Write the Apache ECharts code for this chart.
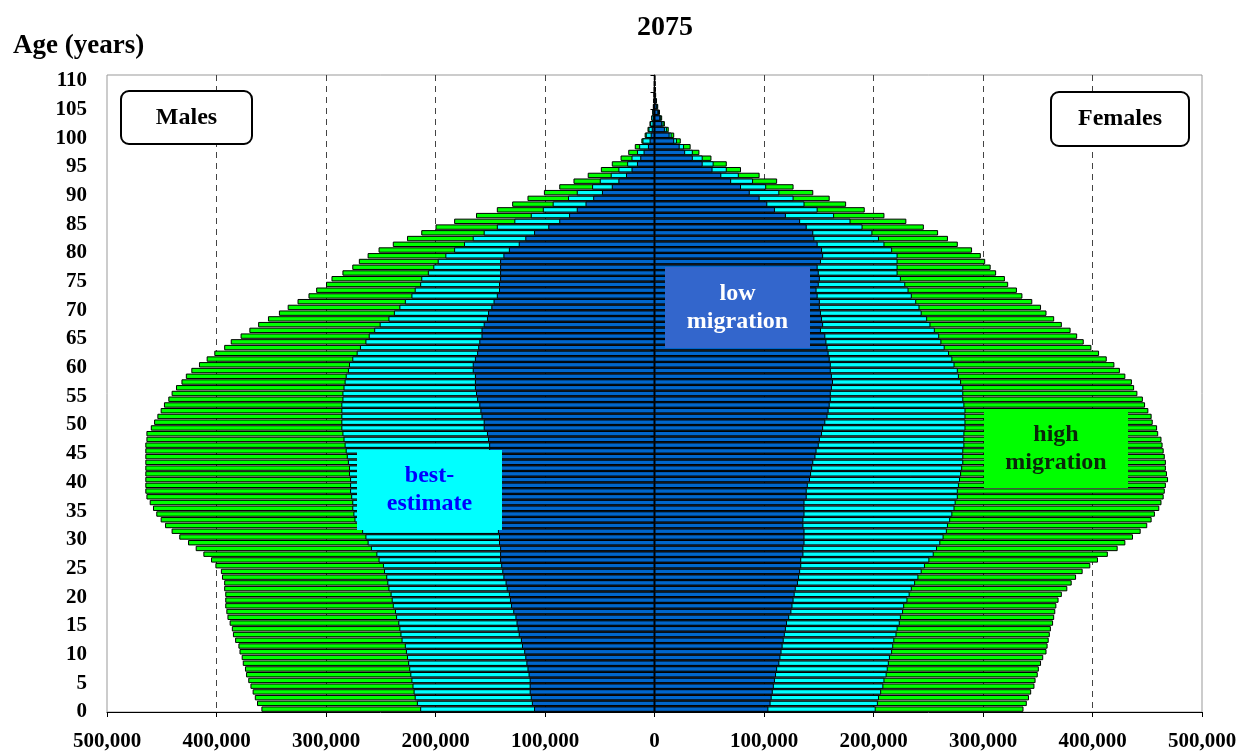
<!DOCTYPE html>
<html>
<head>
<meta charset="utf-8">
<title>2075</title>
<script src="https://cdn.jsdelivr.net/npm/echarts@6/dist/echarts.min.js"></script>
<style>
  html, body { margin: 0; padding: 0; background: #fff; }
  #pyramid { width: 1255px; height: 753px; }
</style>
</head>
<body>
<div id="pyramid"></div>
<script>
// age groups 0..110
const ages = [];
for (let a = 0; a <= 110; a++) ages.push(a);

// population in thousands, males drawn to the left
const malesHigh = [
  359, 363, 365, 367, 369, 371, 373, 374, 376, 377,
  379, 380, 383, 385, 386, 388, 390, 391, 392, 392,
  392, 393, 393, 395, 396, 401, 405, 412, 419, 426,
  434, 441, 447, 451, 455, 458, 461, 464, 465, 465,
  465, 465, 465, 465, 465, 465, 465, 464, 464, 460,
  457, 454, 451, 448, 444, 441, 437, 432, 428, 423,
  416, 409, 402, 393, 387, 378, 370, 362, 353, 343,
  335, 326, 316, 309, 300, 295, 285, 276, 270, 262,
  252, 239, 226, 213, 200, 183, 163, 144, 130, 116,
  101, 87, 74, 61, 49, 39, 31, 24, 18, 12,
  9, 6.4, 4.6, 3, 2.1, 1.5, 1, 0.6, 0.3, 0.2,
  0.1
];
const malesBest = [
  214, 217, 219, 220, 221, 222, 223, 224, 225, 226,
  227, 228, 231, 232, 233, 234, 236, 237, 239, 240,
  241, 243, 244, 245, 247, 248, 252, 254, 259, 262,
  264, 267, 270, 274, 275, 276, 276, 277, 278, 278,
  278, 279, 279, 280, 281, 282, 283, 284, 285, 286,
  286, 286, 286, 286, 285, 285, 284, 283, 282, 280,
  279, 276, 272, 269, 264, 261, 256, 251, 243, 238,
  233, 228, 222, 219, 214, 213, 207, 202, 198, 191,
  183, 174, 166, 156, 144, 128, 113, 102, 93, 79,
  71, 57, 50, 40, 33, 25, 21, 16, 14, 11,
  8, 5.5, 4, 2.8, 2, 1.4, 0.9, 0.5, 0.3, 0.2,
  0.1
];
const malesLow = [
  110, 112, 113, 114, 114, 114, 115, 116, 117, 118,
  119, 121, 122, 124, 125, 126, 127, 129, 131, 132,
  133, 135, 136, 138, 139, 140, 141, 141, 141, 142,
  142, 143, 144, 144, 145, 146, 146, 147, 147, 148,
  149, 149, 150, 150, 150, 151, 151, 152, 153, 156,
  156, 158, 159, 160, 162, 163, 164, 164, 164, 166,
  166, 164, 162, 161, 160, 158, 158, 156, 153, 152,
  149, 147, 144, 142, 142, 141, 141, 141, 141, 138,
  133, 124, 118, 110, 97, 87, 78, 71, 63, 56,
  48, 39, 33, 26, 21, 16, 13, 10, 6, 4.5,
  3.5, 2.5, 1.8, 1.2, 0.8, 0.5, 0.3, 0.2, 0.1, 0.1,
  0.05
];
const femalesHigh = [
  337, 340, 342, 344, 347, 348, 350, 351, 353, 355,
  358, 359, 360, 361, 362, 364, 365, 366, 367, 369,
  372, 377, 381, 385, 391, 398, 405, 414, 423, 430,
  437, 444, 450, 454, 457, 461, 463, 465, 466, 467,
  469, 468, 467, 467, 466, 465, 464, 463, 460, 459,
  455, 454, 451, 448, 446, 441, 438, 436, 430, 425,
  420, 413, 406, 399, 392, 386, 380, 372, 365, 358,
  353, 345, 336, 331, 323, 320, 312, 307, 302, 298,
  290, 277, 268, 259, 246, 230, 210, 192, 175, 160,
  145, 127, 112, 96, 79, 66, 52, 41, 33, 24,
  18, 13, 9.5, 7, 5, 3.4, 2.3, 1.5, 1, 0.6,
  0.4
];
const femalesBest = [
  202, 204, 205, 207, 209, 210, 212, 213, 214, 215,
  217, 218, 219, 221, 222, 224, 225, 227, 228, 231,
  233, 235, 238, 241, 244, 247, 251, 255, 258, 261,
  264, 267, 268, 270, 272, 274, 275, 277, 277, 278,
  279, 280, 281, 282, 282, 282, 283, 283, 283, 284,
  284, 284, 284, 283, 282, 282, 282, 280, 278, 277,
  274, 272, 269, 265, 262, 260, 256, 252, 249, 244,
  242, 239, 235, 232, 229, 225, 222, 222, 222, 222,
  217, 210, 205, 199, 190, 179, 164, 149, 137, 127,
  114, 102, 90, 77, 66, 54, 44, 35, 27, 20.5,
  15.6, 11.3, 8.2, 6.1, 4.2, 2.9, 1.9, 1.2, 0.8, 0.5,
  0.3
];
const femalesLow = [
  104, 106, 107, 108, 109, 110, 111, 112, 114, 115,
  116, 117, 118, 119, 120, 121, 123, 125, 126, 127,
  128, 129, 131, 132, 133, 134, 134, 136, 136, 137,
  137, 137, 136, 136, 137, 137, 137, 139, 139, 140,
  142, 143, 144, 145, 147, 148, 150, 151, 153, 154,
  156, 158, 159, 160, 161, 161, 162, 163, 162, 161,
  161, 160, 159, 158, 157, 156, 152, 154, 153, 152,
  151, 151, 149, 148, 150, 151, 150, 149, 152, 154,
  153, 149, 146, 145, 139, 133, 120, 110, 103, 96,
  87, 79, 70, 61, 53, 44, 35, 28, 23, 18,
  13.8, 9.5, 7, 5.2, 3.5, 2.4, 1.6, 1, 0.6, 0.4,
  0.2
];

const serif = '"Liberation Serif", "Times New Roman", serif';
const green = '#00FF00';
const cyan = '#00FFFF';
const blue = '#0066CC';

const chart = echarts.init(document.getElementById('pyramid'));

// all bars sit on top of each other (barGap -100%), widest first
function pyramidBar(name, values, color, male) {
  return {
    name: name,
    type: 'bar',
    xAxisIndex: 0,
    yAxisIndex: 0,
    barGap: '-100%',
    barCategoryGap: '6%',
    silent: true,
    data: values.map(v => (male ? -v : v)),
    itemStyle: { color: color, borderColor: '#000', borderWidth: 1 }
  };
}

// boxed annotation helper
function labelBox(x, y, w, h, text, fill, textColor, r, stroke) {
  return [
    {
      type: 'rect', z: 100,
      shape: { x: x, y: y, width: w, height: h, r: r || 0 },
      style: { fill: fill, stroke: stroke || null, lineWidth: stroke ? 2 : 0 }
    },
    {
      type: 'text', z: 101,
      x: x + w / 2, y: y + h / 2,
      style: {
        text: text, fill: textColor, align: 'center', verticalAlign: 'middle',
        font: 'bold 24px ' + serif, lineHeight: 28
      }
    }
  ];
}

const option = {
  backgroundColor: '#fff',
  animation: false,
  title: [
    {
      text: '2075', left: 660, top: 9, textAlign: 'center',
      textStyle: { fontFamily: serif, fontWeight: 'bold', fontSize: 28, color: '#000' }
    },
    {
      text: 'Age (years)', left: 8, top: 28,
      textStyle: { fontFamily: serif, fontWeight: 'bold', fontSize: 27, color: '#000' }
    }
  ],
  grid: {
    left: 107, right: 53, top: 75, bottom: 41,
    show: true, borderColor: '#999', borderWidth: 1, backgroundColor: '#fff'
  },
  xAxis: {
    type: 'value',
    min: -500,
    max: 500,
    interval: 100,
    axisLine: { onZero: false, lineStyle: { color: '#000', width: 1 } },
    axisTick: { show: true, length: 5, lineStyle: { color: '#000' } },
    axisLabel: {
      margin: 19,
      color: '#000',
      fontFamily: serif,
      fontWeight: 'bold',
      fontSize: 21,
      formatter: v => (Math.abs(v) * 1000).toLocaleString('en-US')
    },
    splitLine: {
      show: true,
      showMinLine: false,
      showMaxLine: false,
      lineStyle: { color: '#444', width: 1, type: [6, 5] }
    }
  },
  yAxis: [
    {
      // category axis for the bars, line drawn at x = 0
      type: 'category',
      data: ages,
      position: 'left',
      z: 10,
      axisLine: { onZero: true, lineStyle: { color: '#000', width: 1 } },
      axisTick: { show: true, length: 4, lineStyle: { color: '#000' } },
      axisLabel: { show: false },
      splitLine: { show: false }
    },
    {
      // age labels sit on the band edges, like the original
      type: 'value',
      min: 0,
      max: 111,
      interval: 5,
      position: 'left',
      axisLine: { show: false, onZero: false },
      axisTick: { show: false },
      splitLine: { show: false },
      axisLabel: {
        margin: 20,
        color: '#000',
        fontFamily: serif,
        fontWeight: 'bold',
        fontSize: 21,
        formatter: v => (v % 5 === 0 ? String(v) : '')
      }
    }
  ],
  series: [
    pyramidBar('high migration', malesHigh, green, true),
    pyramidBar('high migration', femalesHigh, green, false),
    pyramidBar('best-estimate', malesBest, cyan, true),
    pyramidBar('best-estimate', femalesBest, cyan, false),
    pyramidBar('low migration', malesLow, blue, true),
    pyramidBar('low migration', femalesLow, blue, false)
  ],
  graphic: [].concat(
    labelBox(121, 91, 131, 53, 'Males', '#fff', '#000', 8, '#000'),
    labelBox(1051, 92, 138, 54, 'Females', '#fff', '#000', 8, '#000'),
    labelBox(665, 267, 145, 81, 'low\nmigration', '#3366CC', '#fff'),
    labelBox(357, 450, 145, 80, 'best-\nestimate', cyan, '#0000FF'),
    labelBox(984, 409, 144, 79, 'high\nmigration', green, '#0A260A')
  )
};

chart.setOption(option);
</script>
</body>
</html>
